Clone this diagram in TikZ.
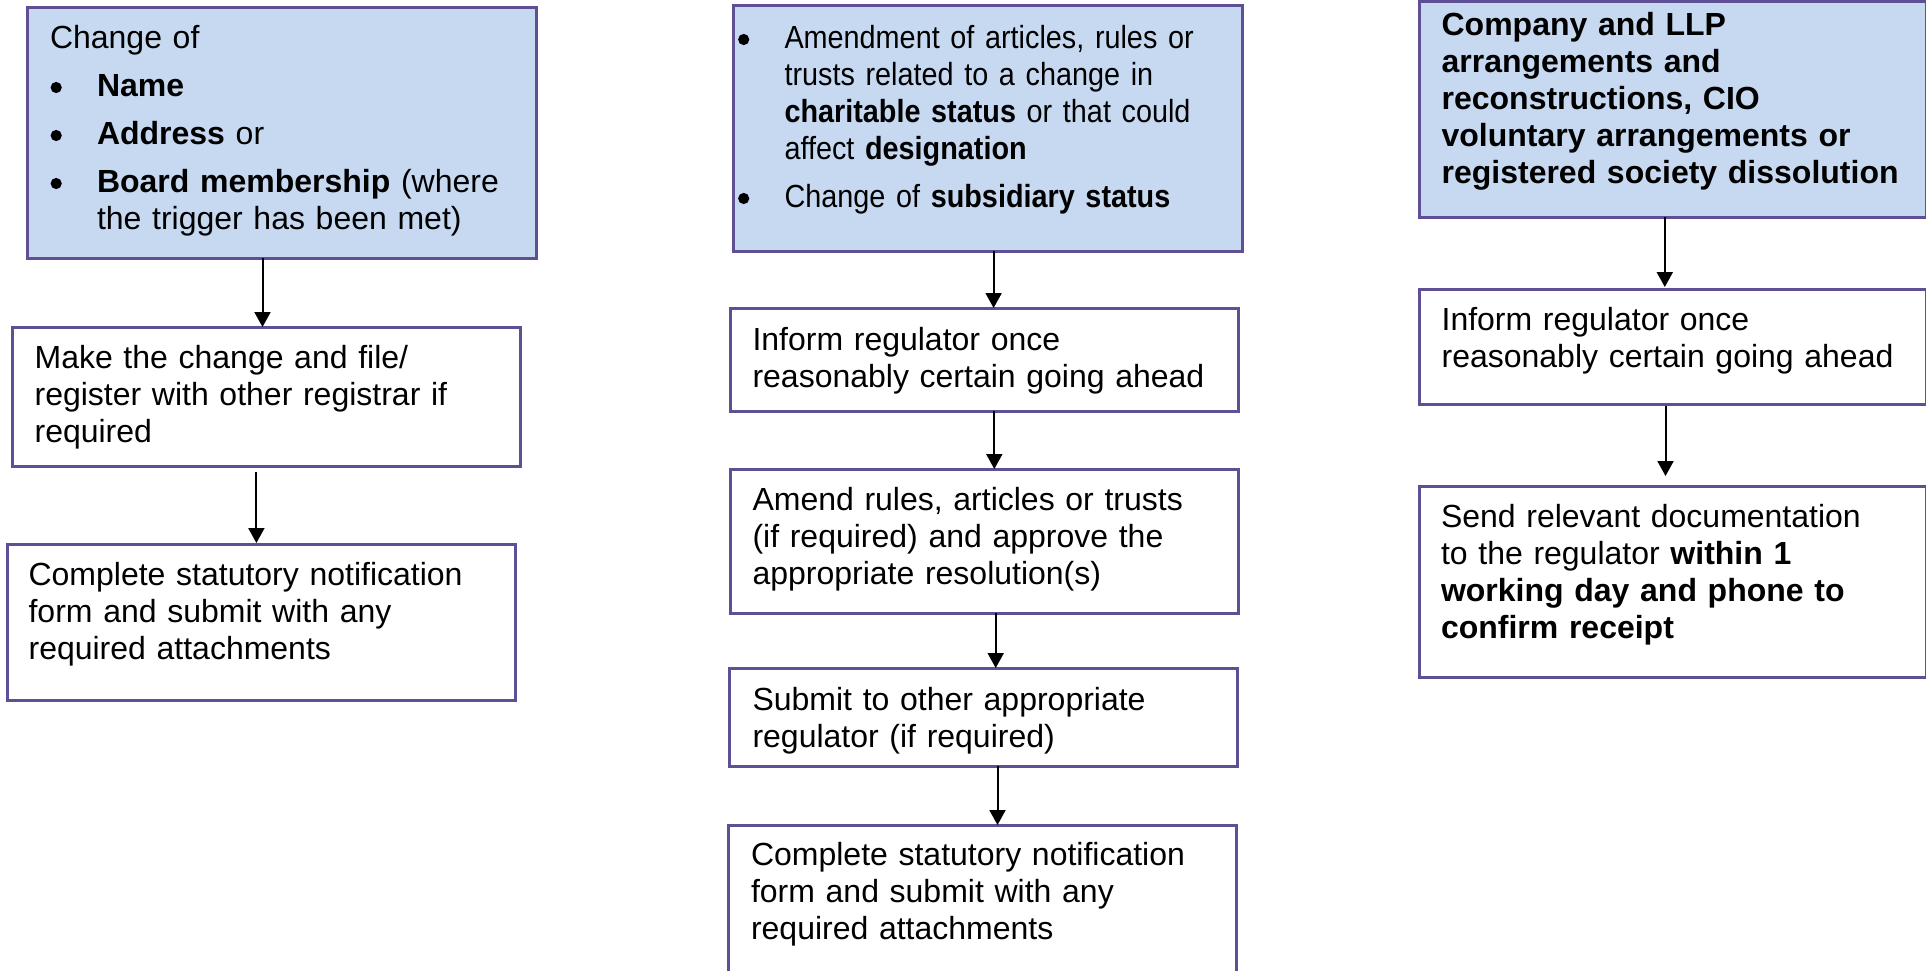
\documentclass[tikz,border=0pt]{standalone}
\usepackage{fontspec}
\setmainfont{Liberation Sans}
\newfontfamily\narrowfont[FakeStretch=0.9]{Liberation Sans}
\usetikzlibrary{arrows.meta,calc}
\definecolor{boxfill}{RGB}{198,217,241}
\definecolor{boxline}{RGB}{95,80,150}
\newcommand\bul{\makebox[47pt][l]{\tikz[baseline=0pt]{\useasboundingbox (0pt,0pt) rectangle (12pt,1pt);\fill (6.2pt,8.5pt) circle[radius=5.6pt];}}}
\newcommand\hang{\hspace*{47pt}}
\tikzset{
  stepbox/.style={draw=boxline, line width=3pt, rectangle, inner sep=0pt, outer sep=0pt, anchor=north west, fill=white},
  headbox/.style={stepbox, fill=boxfill},
  txt/.style={anchor=base west, inner sep=0pt, outer sep=0pt, align=left, text width=490pt, font=\fontsize{32}{37}\selectfont},
  arr/.style={line width=2pt, -{Triangle[length=15pt,width=16pt]}},
}
\begin{document}
\begin{tikzpicture}[x=1pt,y=-1pt]
\useasboundingbox (0,0) rectangle (1926,970);
\clip (0,0) rectangle (1926,970);
\fill[white] (0,0) rectangle (1926,970);

% Column A
\node[headbox, minimum width=508.5pt, minimum height=251pt] (a1) at (27.9,7) {};
\node[stepbox, minimum width=507.9pt, minimum height=139pt] (a2) at (12.5,327) {};
\node[stepbox, minimum width=507.9pt, minimum height=156pt] (a3) at (7.1,544) {};
\node[txt] (a1t) at (50,48) {Change of\\[11pt]
\bul\textbf{Name}\\[11pt]
\bul\textbf{Address} or\\[11pt]
\bul\textbf{Board membership} (where\\
\hang the trigger has been met)};
\node[txt] (a2t) at (34.6,368) {Make the change and file/\\register with other registrar if\\required};
\node[txt] (a3t) at (28.6,585) {Complete statutory notification\\form and submit with any\\required attachments};
\draw[arr] (a1.south -| 262.5,0) -- (a2.north -| 262.5,0);
\draw[arr] ($(a2.south -| 256.4,0)+(0,6)$) -- ($(a3.north -| 256.4,0)+(0,-1)$);

% Column B
\node[headbox, minimum width=508.2pt, minimum height=246pt] (b1) at (733.9,5) {};
\node[stepbox, minimum width=507.8pt, minimum height=103pt] (b2) at (730.4,308) {};
\node[stepbox, minimum width=507.8pt, minimum height=144pt] (b3) at (730.4,469) {};
\node[stepbox, minimum width=507.9pt, minimum height=98pt] (b4) at (729.6,668) {};
\node[stepbox, minimum width=508.2pt, minimum height=170pt] (b5) at (728.6,825) {};
\node[txt, font=\narrowfont\fontsize{32}{37}\selectfont] (b1t) at (737.5,48) {\bul Amendment of articles, rules or\\
\hang trusts related to a change in\\
\hang\textbf{charitable status} or that could\\
\hang affect \textbf{designation}\\[11pt]
\bul Change of \textbf{subsidiary status}};
\node[txt] (b2t) at (752.5,350) {Inform regulator once\\reasonably certain going ahead};
\node[txt] (b3t) at (752.5,510) {Amend rules, articles or trusts\\(if required) and approve the\\appropriate resolution(s)};
\node[txt] (b4t) at (752.5,710) {Submit to other appropriate\\regulator (if required)};
\node[txt] (b5t) at (751,865) {Complete statutory notification\\form and submit with any\\required attachments};
\draw[arr] (b1.south -| 993.6,0) -- (b2.north -| 993.6,0);
\draw[arr] (b2.south -| 994.3,0) -- (b3.north -| 994.3,0);
\draw[arr] (b3.south -| 995.7,0) -- (b4.north -| 995.7,0);
\draw[arr] (b4.south -| 997.5,0) -- (b5.north -| 997.5,0);

% Column C
\node[headbox, minimum width=507.2pt, minimum height=215.5pt] (c1) at (1419.3,1.5) {};
\node[stepbox, minimum width=507.2pt, minimum height=115pt] (c2) at (1419.3,289) {};
\node[stepbox, minimum width=507.5pt, minimum height=191pt] (c3) at (1419,486) {};
\node[txt, font=\fontsize{32}{37}\selectfont\bfseries] (c1t) at (1441.6,35) {Company and LLP\\arrangements and\\reconstructions, CIO\\voluntary arrangements or\\registered society dissolution};
\node[txt] (c2t) at (1441.6,330) {Inform regulator once\\reasonably certain going ahead};
\node[txt] (c3t) at (1441,527) {Send relevant documentation\\to the regulator \textbf{within 1}\\\textbf{working day and phone to}\\\textbf{confirm receipt}};
\draw[arr] (c1.south -| 1664.8,0) -- ($(c2.north -| 1664.8,0)+(0,-2)$);
\draw[arr] ($(c2.south -| 1665.5,0)+(0,2)$) -- ($(c3.north -| 1665.5,0)+(0,-10)$);
\end{tikzpicture}
\end{document}
